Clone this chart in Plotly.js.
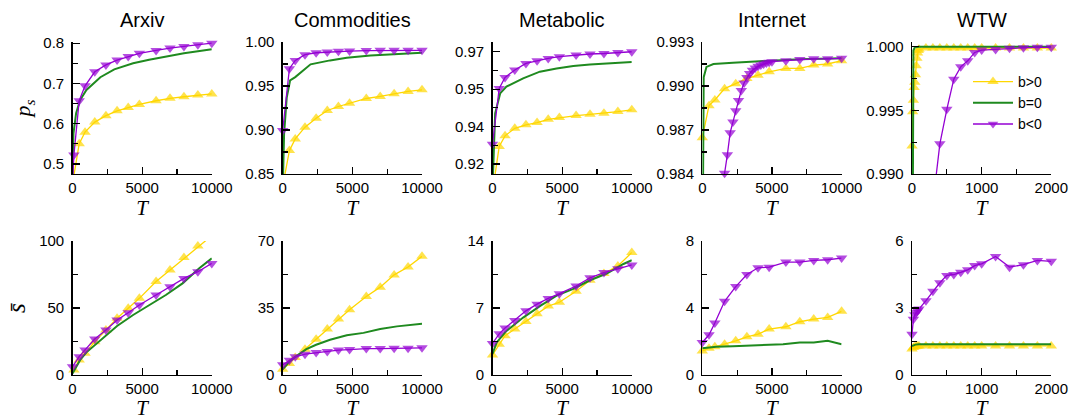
<!DOCTYPE html>
<html><head><meta charset="utf-8">
<script src="https://cdn.plot.ly/plotly-3.0.1.min.js"></script>
<style>html,body{margin:0;padding:0;background:#fff}#chart{width:1084px;height:420px}</style>
</head><body><div id="chart"></div>
<script>
// ---------------- categories / labels ----------------
const panelNames = ['Arxiv', 'Commodities', 'Metabolic', 'Internet', 'WTW'];
const seriesNames = ['b>0', 'b=0', 'b<0'];

// ---------------- top row: p_s versus T ----------------
const T_std = [0, 480, 900, 1600, 2400, 3200, 4000, 4800, 6000, 7000, 8000, 9000, 10000];

const arxivPsPosT = T_std;
const arxivPsPos = [0.45, 0.550, 0.579, 0.604, 0.620, 0.632, 0.640, 0.648, 0.657, 0.663, 0.667, 0.671, 0.674];
const arxivPsZeroT = [0, 70, 260, 550, 1000, 2000, 3000, 4350, 5500, 6700, 8000, 9000, 10000];
const arxivPsZero = [0.45, 0.576, 0.626, 0.659, 0.684, 0.7155, 0.735, 0.750, 0.759, 0.767, 0.775, 0.780, 0.785];
const arxivPsNegT = [0, 100, 480, 900, 1600, 2400, 3200, 4000, 4800, 6000, 7000, 8000, 9000, 10000];
const arxivPsNeg = [0.45, 0.522, 0.657, 0.694, 0.729, 0.746, 0.758, 0.767, 0.775, 0.782, 0.788, 0.792, 0.796, 0.800];

const commPsPosT = T_std;
const commPsPos = [0.836, 0.8766, 0.8899, 0.9032, 0.9134, 0.9222, 0.9267, 0.9305, 0.9358, 0.9381, 0.9411, 0.9438, 0.9457];
const commPsZeroT = [0, 100, 290, 530, 900, 2000, 3400, 4600, 6300, 8200, 10000];
const commPsZero = [0.83, 0.8956, 0.937, 0.9563, 0.9601, 0.9746, 0.9791, 0.9822, 0.9848, 0.9867, 0.9878];
const commPsNegT = T_std;
const commPsNeg = [0.8994, 0.9696, 0.9791, 0.9856, 0.9878, 0.9886, 0.9894, 0.9897, 0.9903, 0.9905, 0.9905, 0.9905, 0.9905];

const metaPsPosT = T_std;
const metaPsPos = [0.9137, 0.932, 0.9363, 0.9393, 0.9407, 0.9416, 0.9429, 0.9436, 0.9444, 0.9449, 0.9453, 0.946, 0.9467];
const metaPsZeroT = [0, 190, 550, 1000, 2200, 3400, 4600, 5800, 7000, 8200, 10000];
const metaPsZero = [0.915, 0.9453, 0.9533, 0.956, 0.9593, 0.962, 0.9633, 0.9643, 0.9649, 0.9653, 0.9659];
const metaPsNegT = T_std;
const metaPsNeg = [0.9329, 0.9553, 0.9597, 0.9627, 0.9653, 0.9664, 0.9673, 0.968, 0.9687, 0.9691, 0.9693, 0.9697, 0.970];

const netPsPosT = T_std;
const netPsPos = [0.98647, 0.98866, 0.98905, 0.98982, 0.99016, 0.99051, 0.99074, 0.99097, 0.9912, 0.9912, 0.99143, 0.9915, 0.99173];
const netPsZeroT = [0, 60, 100, 300, 800, 2200, 4600, 7000, 10000];
const netPsZero = [0.975, 0.9895, 0.9906, 0.9913, 0.9915, 0.99159, 0.99173, 0.99182, 0.99189];
const netPsNegT = [1400, 1600, 1800, 2000, 2200, 2400, 2600, 2800, 3000, 3200, 3400, 3600, 3800, 4000, 4200, 4400, 4600, 4800, 5000, 6000, 7000, 8000, 9000, 10000];
const netPsNeg = [0.980, 0.98405, 0.98532, 0.98682, 0.98755, 0.98832, 0.98901, 0.9897, 0.99021, 0.99058, 0.99085, 0.99108, 0.99122, 0.99134, 0.99143, 0.9915, 0.99157, 0.99162, 0.99166, 0.99173, 0.9918, 0.99185, 0.99185, 0.99189];

const wtwPsPosT = [0, 10, 20, 30, 40, 50, 60, 70, 80, 90, 100, 200, 300, 400, 500, 600, 700, 800, 900, 1000, 1200, 1400, 1600, 1800, 2000];
const wtwPsPos = [0.9922, 0.9949, 0.9958, 0.9968, 0.9972, 0.9978, 0.9985, 0.9991, 0.9995, 0.9997, 0.9998, 0.9999, 0.9999, 0.9999, 0.9999, 0.9999, 0.9999, 0.9999, 0.9999, 0.9999, 0.9999, 0.9999, 0.9999, 0.9999, 0.9999];
const wtwPsZeroT = [0, 10, 20, 40, 100, 500, 1000, 2000];
const wtwPsZero = [0.97, 0.999, 0.9997, 0.99995, 1.0, 1.0, 1.0, 1.0];
const wtwPsNegT = [300, 400, 500, 600, 700, 800, 900, 1000, 1200, 1400, 1600, 1800, 2000];
const wtwPsNeg = [0.9877, 0.99237, 0.99508, 0.99745, 0.99842, 0.99889, 0.99955, 0.99974, 0.99979, 0.99987, 0.99992, 0.99995, 0.99995];

// ---------------- bottom row: mean s versus T ----------------
const arxivSPosT = [100, 480, 900, 1600, 2400, 3200, 4000, 4800, 6000, 7000, 8000, 9000, 10000];
const arxivSPos = [3.7, 11.2, 16.2, 24.9, 33.6, 42.3, 49.8, 57.2, 69.7, 78.4, 87.6, 96.3, 104];
const arxivSZeroT = [0, 550, 1000, 2000, 3200, 4350, 5500, 6700, 7900, 9100, 10000];
const arxivSZero = [1.2, 11.2, 16.9, 26.1, 36.6, 44.8, 52.2, 59.7, 68.4, 79.6, 87.1];
const arxivSNegT = T_std;
const arxivSNeg = [6.2, 13.7, 18.7, 26.9, 33.6, 41.0, 46.5, 52.2, 59.7, 65.9, 72.1, 77.1, 83.3];

const commSPosT = T_std;
const commSPos = [3.0, 6.0, 9.1, 13.5, 18.7, 24.0, 29.2, 34.1, 41.0, 45.9, 52.3, 56.4, 62.0];
const commSZeroT = [0, 530, 1000, 1700, 2400, 3400, 4600, 5800, 7000, 8200, 10000];
const commSZero = [3.0, 7.4, 10.0, 13.5, 15.8, 18.4, 20.8, 22.0, 24.0, 25.4, 26.8];
const commSNegT = T_std;
const commSNeg = [5.3, 7.7, 9.5, 10.9, 11.7, 12.3, 13.0, 13.3, 13.8, 13.8, 14.0, 14.0, 14.2];

const metaSPosT = T_std;
const metaSPos = [2.1, 3.2, 4.1, 4.8, 5.6, 6.4, 7.2, 7.6, 8.75, 9.9, 10.6, 11.4, 12.8];
const metaSZeroT = [0, 300, 1000, 2200, 3400, 4600, 5800, 7000, 8200, 9400, 10000];
const metaSZero = [2.2, 3.4, 4.6, 6.0, 7.2, 8.3, 9.0, 9.9, 10.6, 11.6, 12.0];
const metaSNegT = T_std;
const metaSNeg = [3.3, 4.3, 4.9, 5.7, 6.7, 7.4, 8.0, 8.5, 9.3, 10.15, 10.7, 11.1, 11.5];

const netSPosT = T_std;
const netSPos = [1.44, 1.6, 1.68, 1.84, 2.04, 2.28, 2.44, 2.74, 2.88, 3.18, 3.34, 3.44, 3.8];
const netSZeroT = [0, 1000, 2200, 3400, 4600, 5800, 7000, 8000, 9000, 10000];
const netSZero = [1.6, 1.68, 1.72, 1.76, 1.8, 1.84, 1.94, 1.94, 2.04, 1.84];
const netSNegT = T_std;
const netSNeg = [1.94, 2.4, 3.1, 4.4, 5.28, 6.0, 6.4, 6.44, 6.74, 6.74, 6.84, 6.88, 6.98];

const wtwSPosT = [0, 20, 40, 60, 80, 100, 200, 300, 400, 500, 600, 700, 800, 900, 1000, 1200, 1400, 1600, 1800, 2000];
const wtwSPos = [1.16, 1.23, 1.27, 1.29, 1.3, 1.3, 1.3, 1.3, 1.3, 1.3, 1.3, 1.3, 1.3, 1.3, 1.3, 1.3, 1.3, 1.3, 1.3, 1.3];
const wtwSZeroT = [0, 50, 100, 500, 1000, 1500, 2000];
const wtwSZero = [1.3, 1.36, 1.38, 1.38, 1.38, 1.38, 1.38];
const wtwSNegT = [0, 20, 40, 60, 80, 100, 200, 300, 400, 500, 600, 700, 800, 900, 1000, 1200, 1400, 1600, 1800, 2000];
const wtwSNeg = [1.83, 2.5, 2.7, 2.8, 2.88, 2.95, 3.33, 3.75, 4.13, 4.46, 4.5, 4.6, 4.71, 4.9, 4.98, 5.31, 4.83, 4.94, 5.13, 5.09];

// ---------------- axis ticks ----------------
const topTickVals = [[0.5, 0.6, 0.7, 0.8], [0.85, 0.90, 0.95, 1.00], [0.925, 0.94, 0.955, 0.97], [0.984, 0.987, 0.990, 0.993], [0.990, 0.995, 1.000]];
const topTickText = [['0.5', '0.6', '0.7', '0.8'], ['0.85', '0.90', '0.95', '1.00'], ['0.92', '0.94', '0.95', '0.97'], ['0.984', '0.987', '0.990', '0.993'], ['0.990', '0.995', '1.000']];
const botTickVals = [[0, 50, 100], [0, 35, 70], [0, 7, 14], [0, 4, 8], [0, 3, 6]];
const xTickVals = [[0, 5000, 10000], [0, 5000, 10000], [0, 5000, 10000], [0, 5000, 10000], [0, 1000, 2000]];

// ---------------- layout parameters ----------------
const W = 1084, H = 420;
const colLeft = [72.5, 282.7, 492.5, 702.3, 912];
const colWidth = 139.3;
const topRowPx = [42, 174], botRowPx = [241, 375];
const topRanges = [[0.475, 0.803], [0.85, 1.0], [0.921, 0.9739], [0.984, 0.993], [0.99, 1.00037]];
const topMinor = [[0.45, 0.05], [0.85, 0.025], [0.925, 0.0075], [0.984, 0.0015], [0.99, 0.0025]];
const botRanges = [[0, 100], [0, 70], [0, 14], [0, 8], [0, 6]];
const xRanges = [[0, 10000], [0, 10000], [0, 10000], [0, 10000], [0, 2000]];

const COLORS = ['#FFD700', '#1F8A1F', '#9400D3'];
const SYMBOLS = ['triangle-up', null, 'triangle-down'];

const topSeries = [
  [[arxivPsPosT, arxivPsPos], [arxivPsZeroT, arxivPsZero], [arxivPsNegT, arxivPsNeg]],
  [[commPsPosT, commPsPos], [commPsZeroT, commPsZero], [commPsNegT, commPsNeg]],
  [[metaPsPosT, metaPsPos], [metaPsZeroT, metaPsZero], [metaPsNegT, metaPsNeg]],
  [[netPsPosT, netPsPos], [netPsZeroT, netPsZero], [netPsNegT, netPsNeg]],
  [[wtwPsPosT, wtwPsPos], [wtwPsZeroT, wtwPsZero], [wtwPsNegT, wtwPsNeg]]
];
const botSeries = [
  [[arxivSPosT, arxivSPos], [arxivSZeroT, arxivSZero], [arxivSNegT, arxivSNeg]],
  [[commSPosT, commSPos], [commSZeroT, commSZero], [commSNegT, commSNeg]],
  [[metaSPosT, metaSPos], [metaSZeroT, metaSZero], [metaSNegT, metaSNeg]],
  [[netSPosT, netSPos], [netSZeroT, netSZero], [netSNegT, netSNeg]],
  [[wtwSPosT, wtwSPos], [wtwSZeroT, wtwSZero], [wtwSNegT, wtwSNeg]]
];

const tickFont = {family: 'Liberation Sans, Arial, sans-serif', size: 15, color: '#000'};
const serif = 'Liberation Serif, Times New Roman, serif';

const layout = {
  width: W, height: H,
  margin: {l: 0, r: 0, t: 0, b: 0},
  paper_bgcolor: '#fff', plot_bgcolor: 'rgba(0,0,0,0)',
  showlegend: true,
  legend: {
    x: 968 / W, y: 1 - 66 / H, xanchor: 'left', yanchor: 'top',
    bgcolor: 'rgba(0,0,0,0)', font: {family: tickFont.family, size: 14, color: '#000'},
    tracegroupgap: 0, itemwidth: 40
  },
  annotations: [],
  font: tickFont
};

const data = [];

function axisCommon() {
  return {
    showline: true, linecolor: '#000', linewidth: 1.3,
    ticks: 'inside', ticklen: 7, tickwidth: 1.2, tickcolor: '#000',
    showgrid: false, zeroline: false, mirror: false,
    tickfont: tickFont, fixedrange: true
  };
}

for (let row = 0; row < 2; row++) {
  for (let c = 0; c < 5; c++) {
    const n = row * 5 + c + 1;
    const xk = 'xaxis' + n, yk = 'yaxis' + n;
    const xr = 'x' + n, yr = 'y' + n;
    const px = row === 0 ? topRowPx : botRowPx;
    const xspan = xRanges[c][1];
    layout[xk] = Object.assign(axisCommon(), {
      domain: [colLeft[c] / W, (colLeft[c] + colWidth) / W],
      anchor: yr, range: xRanges[c],
      tickmode: 'array', tickvals: xTickVals[c], ticktext: xTickVals[c].map(String),
      minor: {ticks: 'inside', ticklen: 5, tickwidth: 1.2, tickcolor: '#000', tick0: 0, dtick: xspan / 4},
      title: {text: '<i>T</i>', font: {family: serif, size: 21, color: '#000'}, standoff: 4}
    });
    const yrange = row === 0 ? topRanges[c] : botRanges[c];
    const ytv = row === 0 ? topTickVals[c] : botTickVals[c];
    const ytt = row === 0 ? topTickText[c] : botTickVals[c].map(String);
    const ym = row === 0 ? {tick0: topMinor[c][0], dtick: topMinor[c][1]} : {tick0: 0, dtick: botRanges[c][1] / 4};
    layout[yk] = Object.assign(axisCommon(), {
      domain: [1 - px[1] / H, 1 - px[0] / H],
      anchor: xr, range: yrange,
      tickmode: 'array', tickvals: ytv, ticktext: ytt,
      ticklabelstandoff: 4,
      minor: Object.assign({ticks: 'inside', ticklen: 5, tickwidth: 1.2, tickcolor: '#000'}, ym)
    });
    if (c === 0) {
      layout[yk].title = {
        text: row === 0 ? '<i>p<sub>s</sub></i>' : '<i>s\u0304</i>',
        font: {family: serif, size: row === 0 ? 22 : 25, color: '#000'}, standoff: 6
      };
    }
    const series = row === 0 ? topSeries[c] : botSeries[c];
    for (let s = 0; s < 3; s++) {
      const [tx, vy] = series[s];
      const inRange = vy.map(v => v >= yrange[0] && v <= yrange[1]);
      const tr = {
        type: 'scatter', x: tx, y: vy, xaxis: xr, yaxis: yr,
        name: seriesNames[s], legendgroup: seriesNames[s],
        showlegend: (row === 0 && c === 4),
        cliponaxis: false,
        line: {color: COLORS[s], width: s === 1 ? 2 : 1.3}
      };
      if (SYMBOLS[s]) {
        tr.mode = 'lines+markers';
        tr.marker = {symbol: SYMBOLS[s], color: COLORS[s], size: inRange.map(b => b ? 10 : 0), line: {width: 0}};
      } else {
        tr.mode = 'lines';
      }
      data.push(tr);
    }
    if (row === 0) {
      layout.annotations.push({
        text: panelNames[c], xref: 'paper', yref: 'paper',
        x: (colLeft[c] + colWidth / 2) / W, y: 1 - 20 / H,
        xanchor: 'center', yanchor: 'middle', showarrow: false,
        font: {family: tickFont.family, size: 20, color: '#000'}
      });
    }
  }
}

Plotly.newPlot('chart', data, layout, {displayModeBar: false, staticPlot: true});
</script>
</body></html>
